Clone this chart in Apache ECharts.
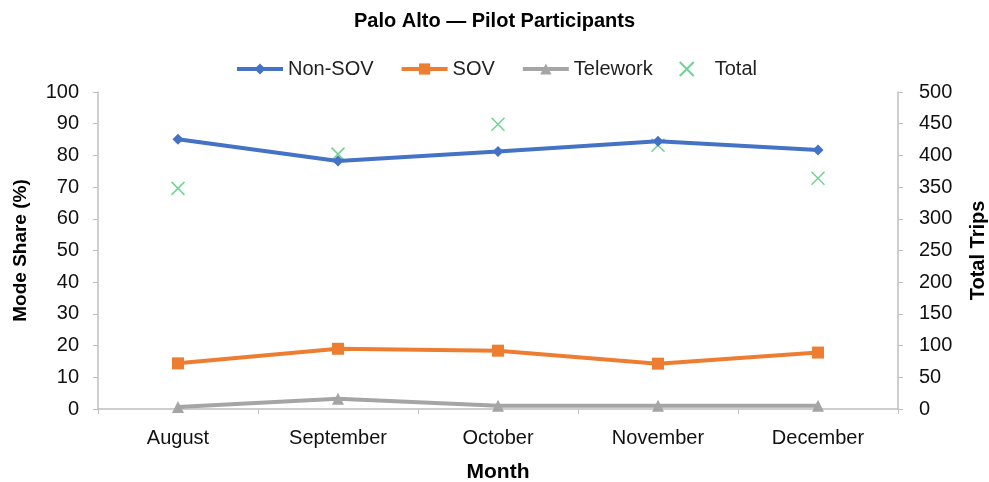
<!DOCTYPE html>
<html>
<head>
<meta charset="utf-8">
<script src="https://cdn.jsdelivr.net/npm/echarts@6/dist/echarts.min.js"></script>
<style>
  html, body { margin: 0; padding: 0; background: #fff; }
  #chart { width: 989px; height: 482px; }
</style>
</head>
<body>
<div id="chart"></div>
<script>
// Monthly mode share and trip totals for pilot participants
const months = ['August', 'September', 'October', 'November', 'December'];
const nonSov = [85.1, 78.2, 81.2, 84.5, 81.7];
const sov = [14.4, 19.0, 18.4, 14.3, 17.8];
const telework = [0.6, 3.2, 1.0, 1.0, 1.0];
const totalTrips = [348, 402, 449, 416, 364];
const shareTicks = [0, 100, 10];
const tripTicks = [0, 500, 50];

const font = 'Liberation Sans';
const axisGray = '#BFBFBF';
const xMark = 'path://M0,0L10,10M10,0L0,10';

const chart = echarts.init(document.getElementById('chart'));
chart.setOption({
  animation: false,
  textStyle: { fontFamily: font },
  title: {
    text: 'Palo Alto \u2014 Pilot Participants',
    left: 'center',
    top: 6,
    textStyle: { fontSize: 20, fontWeight: 'bold', color: '#000', fontFamily: font }
  },
  legend: {
    top: 54,
    left: 230,
    itemGap: 26,
    itemWidth: 46,
    itemHeight: 14,
    lineStyle: { width: 4 },
    textStyle: { fontSize: 20, color: '#222', fontFamily: font },
    data: [
      { name: 'Non-SOV' },
      { name: 'SOV' },
      { name: 'Telework' },
      { name: 'Total' }
    ]
  },
  grid: {
    left: 98, right: 91, top: 92, bottom: 73,
    containLabel: false,
    outerBoundsMode: 'none'
  },
  xAxis: {
    type: 'category',
    data: months,
    name: 'Month',
    nameLocation: 'middle',
    nameGap: 53,
    nameTextStyle: { fontSize: 21, fontWeight: 'bold', color: '#000' },
    axisLine: { lineStyle: { color: axisGray, width: 1.5 } },
    axisTick: { show: true, length: 5, lineStyle: { color: axisGray } },
    axisLabel: { fontSize: 20, color: '#111', margin: 19 },
    splitLine: { show: false }
  },
  yAxis: [
    {
      type: 'value',
      min: shareTicks[0], max: shareTicks[1], interval: shareTicks[2],
      name: 'Mode Share (%)',
      nameLocation: 'middle',
      nameGap: 68,
      nameRotate: 90,
      nameTextStyle: { fontSize: 19, fontWeight: 'bold', color: '#000' },
      axisLine: { show: true, lineStyle: { color: axisGray, width: 1.5 } },
      axisTick: { show: true, length: 5, lineStyle: { color: axisGray } },
      axisLabel: { fontSize: 20, color: '#111', margin: 19 },
      splitLine: { show: false }
    },
    {
      type: 'value',
      min: tripTicks[0], max: tripTicks[1], interval: tripTicks[2],
      name: 'Total Trips',
      nameLocation: 'middle',
      nameGap: 70,
      nameRotate: 90,
      nameTextStyle: { fontSize: 20, fontWeight: 'bold', color: '#000' },
      axisLine: { show: true, lineStyle: { color: axisGray, width: 1.5 } },
      axisTick: { show: true, length: 5, lineStyle: { color: axisGray } },
      axisLabel: { fontSize: 20, color: '#111', margin: 21 },
      splitLine: { show: false }
    }
  ],
  series: [
    {
      name: 'Non-SOV', type: 'line', data: nonSov, yAxisIndex: 0,
      symbol: 'diamond', symbolSize: 11,
      lineStyle: { color: '#4472C4', width: 4 },
      itemStyle: { color: '#4472C4' }
    },
    {
      name: 'SOV', type: 'line', data: sov, yAxisIndex: 0,
      symbol: 'rect', symbolSize: 12,
      lineStyle: { color: '#ED7D31', width: 4 },
      itemStyle: { color: '#ED7D31' }
    },
    {
      name: 'Telework', type: 'line', data: telework, yAxisIndex: 0,
      symbol: 'triangle', symbolSize: 12,
      lineStyle: { color: '#A5A5A5', width: 4 },
      itemStyle: { color: '#A5A5A5' }
    },
    {
      name: 'Total', type: 'scatter', data: totalTrips, yAxisIndex: 1,
      symbol: xMark, symbolSize: 13,
      itemStyle: { color: 'transparent', borderColor: '#4DC77A', borderWidth: 1.5 }
    }
  ]
});
</script>
</body>
</html>
